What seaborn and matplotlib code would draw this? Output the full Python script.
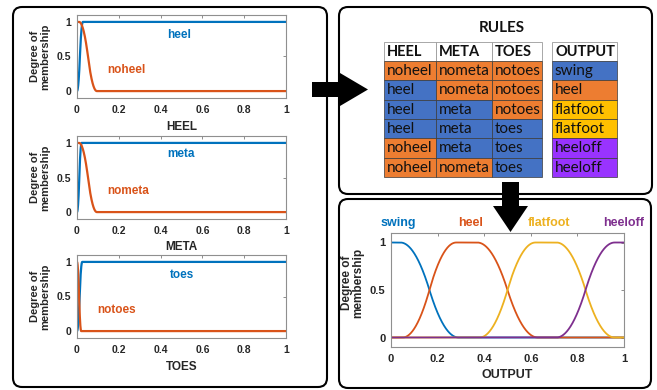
import numpy as np
import pandas as pd
import matplotlib
matplotlib.use("Agg")
import matplotlib.pyplot as plt
import seaborn as sns
from matplotlib.patches import FancyBboxPatch, Rectangle, Polygon

# ---- membership-function parameters (MATLAB smf / zmf / pimf conventions) ----
heel_smf = [0.0, 0.028]
noheel_zmf = [0.01, 0.095]
meta_smf = [0.0, 0.022]
nometa_zmf = [0.01, 0.095]
toes_smf = [0.0, 0.025]
notoes_zmf = [0.0, 0.02]

swing_zmf = [0.04, 0.29]
heel_out_pimf = [0.05, 0.28, 0.37, 0.63]
flatfoot_pimf = [0.38, 0.62, 0.71, 0.96]
heeloff_smf = [0.71, 0.96]

# ---- rule base ----
rule_heel = ["noheel", "heel", "heel", "heel", "noheel", "noheel"]
rule_meta = ["nometa", "nometa", "meta", "meta", "meta", "nometa"]
rule_toes = ["notoes", "notoes", "notoes", "toes", "toes", "toes"]
rule_output = ["swing", "heel", "flatfoot", "flatfoot", "heeloff", "heeloff"]
rule_headers = ["HEEL", "META", "TOES", "OUTPUT"]

x_ticks = [0, 0.2, 0.4, 0.6, 0.8, 1]
x_tick_labels = ["0", "0.2", "0.4", "0.6", "0.8", "1"]
y_ticks = [0, 0.5, 1]
y_tick_labels = ["0", "0.5", "1"]

BLUE, ORANGE, YELLOW, PURPLE = "#0072BD", "#D95319", "#EDB120", "#7E2F8E"
CELL = {"orange": "#ED7D31", "blue": "#4472C4", "yellow": "#FFC000", "purple": "#9933FF"}
TABLE_FONT = ["Lato", "DejaVu Sans"]


def smf(x, p):
    a, b = p
    y = np.zeros_like(x)
    m = (a + b) / 2
    y[x >= b] = 1.0
    s1 = (x > a) & (x <= m)
    y[s1] = 2 * ((x[s1] - a) / (b - a)) ** 2
    s2 = (x > m) & (x < b)
    y[s2] = 1 - 2 * ((x[s2] - b) / (b - a)) ** 2
    return y


def zmf(x, p):
    a, b = p
    y = np.ones_like(x)
    m = (a + b) / 2
    y[x >= b] = 0.0
    s1 = (x > a) & (x <= m)
    y[s1] = 1 - 2 * ((x[s1] - a) / (b - a)) ** 2
    s2 = (x > m) & (x < b)
    y[s2] = 2 * ((x[s2] - b) / (b - a)) ** 2
    return y


def pimf(x, p):
    return smf(x, p[:2]) * zmf(x, p[2:])


sns.set_theme(style="white")
plt.rcParams["font.family"] = ["Liberation Sans", "DejaVu Sans"]

W, H = 657, 390
fig = plt.figure(figsize=(W / 100, H / 100), dpi=100)
fig.patch.set_facecolor("white")


def px_axes(left, top, right, bottom, z=1):
    return fig.add_axes([left / W, 1 - bottom / H, (right - left) / W, (bottom - top) / H], zorder=z)


# background layer: panel frames and rule table
bg = fig.add_axes([0, 0, 1, 1], zorder=0)
bg.set_xlim(0, W)
bg.set_ylim(H, 0)
bg.axis("off")

for (l, t, r, b) in [(13, 7, 327, 387), (339, 7, 652, 194), (339, 199, 651, 388)]:
    bg.add_patch(FancyBboxPatch((l, t), r - l, b - t,
                                boxstyle="round,pad=0,rounding_size=9",
                                fc="white", ec="black", lw=1.5))

x = np.linspace(0, 1, 2001)


def style_axes(ax, fs):
    ax.set_xlim(0, 1)
    ax.set_ylim(-0.1, 1.1)
    ax.set_xticks(x_ticks)
    ax.set_xticklabels(x_tick_labels, fontweight="bold", fontsize=fs, color="#262626")
    ax.set_yticks(y_ticks)
    ax.set_yticklabels(y_tick_labels, fontweight="bold", fontsize=fs, color="#262626")
    ax.tick_params(direction="in", length=2.5, width=0.6, top=True, right=True,
                   colors="#7a7a7a", labelcolor="#262626")
    ax.tick_params(axis="x", pad=5)
    ax.tick_params(axis="y", pad=4)
    for s in ax.spines.values():
        s.set_visible(True)
        s.set_color("#8f8f8f")
        s.set_linewidth(0.8)
    ax.set_facecolor("white")


def input_panel(top, name, lo_name, hi_name, hi_p, lo_p, hi_pos, lo_pos):
    ax = px_axes(77, top, 286, top + 83, z=2)
    df = pd.concat([
        pd.DataFrame({"x": x, "mu": smf(x, hi_p), "mf": hi_name}),
        pd.DataFrame({"x": x, "mu": zmf(x, lo_p), "mf": lo_name}),
    ])
    sns.lineplot(data=df, x="x", y="mu", hue="mf", hue_order=[hi_name, lo_name],
                 palette=[BLUE, ORANGE], linewidth=1.6, legend=False, errorbar=None,
                 ax=ax)
    style_axes(ax, 7.5)
    ax.set_xlabel(name, fontweight="bold", fontsize=8.5, color="#262626", labelpad=4)
    ax.set_ylabel("Degree of\nmembership", fontweight="bold", fontsize=8,
                  color="#262626", linespacing=0.95)
    ax.yaxis.set_label_coords(-0.13, 0.5)
    ax.text(*hi_pos, hi_name, color=BLUE, fontweight="bold", fontsize=8.5, ha="center", va="center")
    ax.text(*lo_pos, lo_name, color=ORANGE, fontweight="bold", fontsize=8.5, ha="center", va="center")
    return ax


input_panel(15, "HEEL", "noheel", "heel", heel_smf, noheel_zmf, (0.49, 0.81), (0.235, 0.30))
input_panel(136, "META", "nometa", "meta", meta_smf, nometa_zmf, (0.50, 0.84), (0.245, 0.30))
input_panel(255, "TOES", "notoes", "toes", toes_smf, notoes_zmf, (0.50, 0.81), (0.19, 0.30))

# output membership functions
ax = px_axes(391, 233, 624, 347, z=2)
out_names = ["swing", "heel", "flatfoot", "heeloff"]
out_df = pd.concat([
    pd.DataFrame({"x": x, "mu": zmf(x, swing_zmf), "mf": "swing"}),
    pd.DataFrame({"x": x, "mu": pimf(x, heel_out_pimf), "mf": "heel"}),
    pd.DataFrame({"x": x, "mu": pimf(x, flatfoot_pimf), "mf": "flatfoot"}),
    pd.DataFrame({"x": x, "mu": smf(x, heeloff_smf), "mf": "heeloff"}),
])
sns.lineplot(data=out_df, x="x", y="mu", hue="mf", hue_order=out_names,
             palette=[BLUE, ORANGE, YELLOW, PURPLE], linewidth=1.3, legend=False,
             errorbar=None, ax=ax)
style_axes(ax, 8)
ax.set_xlabel("OUTPUT", fontweight="bold", fontsize=9, color="#262626", labelpad=4)
ax.set_ylabel("Degree of\nmembership", fontweight="bold", fontsize=8.5,
              color="#262626", linespacing=0.95)
ax.yaxis.set_label_coords(-0.115, 0.56)
for name, xp, c in zip(out_names, [0.03, 0.34, 0.68, 1.0], [BLUE, ORANGE, YELLOW, PURPLE]):
    ax.text(xp, 1.21, name, color=c, fontweight="bold", fontsize=9, ha="center",
            va="center", clip_on=False)

# rule table
bg.text(502, 28, "RULES", fontsize=11, fontweight="bold", ha="center", va="center",
        family=TABLE_FONT, color="#111111")
col_edges = [(384, 436), (436, 492), (492, 542), (552, 617)]
row_top, header_h, row_h = 42, 19, 19.33
value_color = {"noheel": "orange", "nometa": "orange", "notoes": "orange",
               "heel": "blue", "meta": "blue", "toes": "blue"}
out_color = {"swing": "blue", "heel": "orange", "flatfoot": "yellow", "heeloff": "purple"}

for (l, r), head in zip(col_edges, rule_headers):
    bg.add_patch(Rectangle((l, row_top), r - l, header_h, fc="white", ec="#9a9a9a", lw=0.6))
    bg.text(l + 3, row_top + header_h / 2 + 0.5, head, fontsize=10.5, fontweight="bold",
            ha="left", va="center", family=TABLE_FONT, color="#111111")

columns = [rule_heel, rule_meta, rule_toes, rule_output]
for ci, ((l, r), vals) in enumerate(zip(col_edges, columns)):
    for ri, v in enumerate(vals):
        t = row_top + header_h + ri * row_h
        key = out_color[v] if ci == 3 else value_color[v]
        bg.add_patch(Rectangle((l, t), r - l, row_h, fc=CELL[key], ec="#3a3a3a", lw=0.5))
        bg.text(l + 2.5, t + row_h / 2 + 0.5, v, fontsize=11, ha="left", va="center",
                family=TABLE_FONT, color="#111111")

# flow arrows on top of everything
fg = fig.add_axes([0, 0, 1, 1], zorder=10)
fg.set_xlim(0, W)
fg.set_ylim(H, 0)
fg.axis("off")
fg.patch.set_alpha(0)
fg.add_patch(Polygon([(312, 82), (340, 82), (340, 73), (368, 89.5), (340, 106),
                      (340, 97), (312, 97)], closed=True, fc="black", ec="none"))
fg.add_patch(Polygon([(502, 182), (519, 182), (519, 206), (528, 206), (510.5, 232),
                      (493, 206), (502, 206)], closed=True, fc="black", ec="none"))

fig.savefig("out.png", dpi=100, facecolor="white")
